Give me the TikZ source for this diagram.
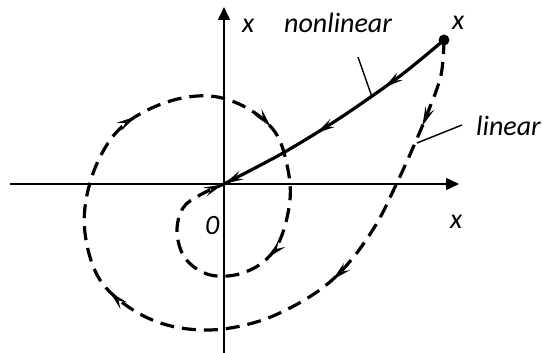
\documentclass[tikz,border=0pt]{standalone}
\usepackage{fontspec}
\setmainfont{Carlito}
\usetikzlibrary{arrows.meta,decorations.markings}
\newcommand{\trajtip}{\arrow{Stealth[length=19pt,width=9pt,inset=7pt]}}
\tikzset{
  axisline/.style={line width=1.6pt,-{Triangle[length=13pt,width=12pt]}},
  traj/.style={line width=3.2pt,line join=round},
  dashtraj/.style={traj,dash pattern=on 14pt off 8pt},
  lbl/.style={font=\fontsize{28}{32}\selectfont\itshape,inner sep=0pt,anchor=base west},
  pointer/.style={line width=1.4pt},
}
\begin{document}
\begin{tikzpicture}[x=1pt,y=-1pt]
\useasboundingbox (0,0) rectangle (542,353);
% coordinates
\coordinate (O) at (224,184);
\coordinate (X0) at (444,40);
\coordinate (xl) at (10,184);
\coordinate (xr) at (459,184);
\coordinate (yb) at (224,353);
\coordinate (yt) at (224,7);
% axes
\draw[axisline] (xl) -- (xr);
\draw[axisline] (yb) -- (yt);
% linear (dashed spiral)
\draw[dashtraj,
  postaction={decorate,decoration={markings,
    mark=at position 0.075 with {\trajtip},
    mark=at position 0.225 with {\trajtip},
    mark=at position 0.43 with {\trajtip},
    mark=at position 0.596 with {\trajtip},
    mark=at position 0.72 with {\trajtip},
    mark=at position 0.837 with {\trajtip},
    mark=at position 0.999 with {\trajtip}}}]
  plot[smooth,tension=0.6] coordinates {
  (444,40) (441,75) (428,112) (412,150) (395,187) (377,223) (352,259)
  (325,286) (290,308) (253,323) (210,330) (167,325) (130,308) (100,280)
  (86,240) (86,200) (100,157) (125,124) (167,102) (210,96) (247,108)
  (275,132) (287,165) (290,200) (280,240) (262,263) (235,275) (207,274)
  (185,258) (177,232) (183,208) (200,195) (224,184)};
% nonlinear (solid)
\draw[traj,
  postaction={decorate,decoration={markings,
    mark=at position 0.29 with {\trajtip},
    mark=at position 0.60 with {\trajtip},
    mark=at position 0.999 with {\trajtip}}}]
  plot[smooth] coordinates {(444,40) (400,76) (340,118) (283,153) (224,184)};
% start point
\fill (X0) circle (5.5);
% labels
\node[lbl] (lx1) at (242,33) {x};
\node[lbl] (lnl) at (284,33) {nonlinear};
\node[lbl] (lx0) at (452,30) {x};
\node[lbl] (llin) at (476,136) {linear};
\node[lbl] (lx2) at (450,229) {x};
\node[lbl] (l0) at (205,234) {0};
% pointers
\coordinate (pn1) at (358,57);
\coordinate (pn2) at (372,97);
\coordinate (pl1) at (462,125);
\coordinate (pl2) at (417,143);
\draw[pointer] (pn1) -- (pn2);
\draw[pointer] (pl1) -- (pl2);
\end{tikzpicture}
\end{document}
